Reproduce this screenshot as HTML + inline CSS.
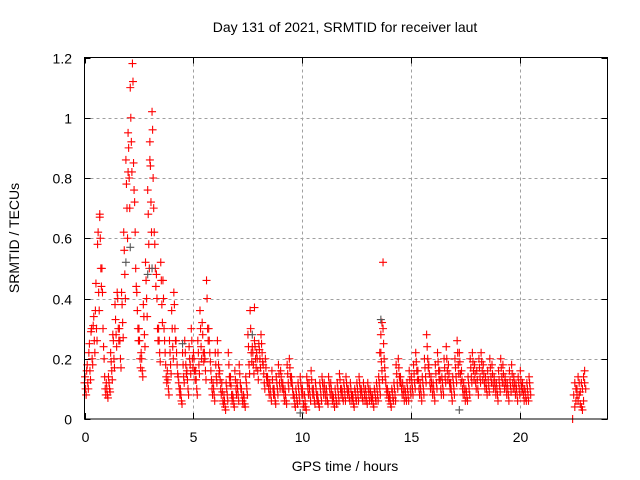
<!DOCTYPE html>
<html><head><meta charset="utf-8"><style>
body{margin:0;background:#fff;}
svg{display:block;font-family:"Liberation Sans",sans-serif;}
</style></head><body>
<svg id="chart" width="640" height="480">
<text x="345" y="32" font-size="14" text-anchor="middle">Day 131 of 2021, SRMTID for receiver laut</text>
<text x="345" y="471" font-size="14" text-anchor="middle">GPS time / hours</text>
<text x="19" y="238" font-size="14" text-anchor="middle" transform="rotate(-90 19 238)">SRMTID / TECUs</text>
<g id="grid"></g><g id="ticks"></g><g id="marks"></g>
<rect x="84.5" y="57.5" width="523" height="361.5" fill="none" stroke="#000" stroke-width="1"/>
</svg>
<script>
const xTicks=[0,5,10,15,20];
const yTicks=[0,0.2,0.4,0.6,0.8,1,1.2];
const yTickLabels=["0","0.2","0.4","0.6","0.8","1","1.2"];
const valsA=[.12,.16,.22,.29,.31,.36,.58,.67,.5,.2,
.12,.14,.22,.28,.38,.42,.3,.42,.62,.86,
.95,1.1,1.18,.72,.42,.3,.22,.38,.52,.76,
.92,1.02,.62,.48,.3,.52,.46,.22,.16,.26,
.36,.42,.26,.14,.1,.22,.26,.16,.24,.3,
.22,.16,.26,.36,.32,.22,.46,.3,.16,.12,
.22,.26,.16,.12,.08,.12,.22,.14,.08,.16,
.12,.18,.1,.08,.14,.28,.36,.24,.26,.22,
.25,.28,.18,.2,.14,.12,.16,.1,.14,.18,
.16,.12,.1,.18,.2,.14,.08,.1,.12,.14,
.1,.08,.14,.12,.16,.1,.12,.08,.12,.14,
.12,.1,.14,.12,.08,.1,.12,.15,.1,.12,
.14,.1,.12,.08,.1,.12,.14,.1,.12,.1,
.12,.1,.08,.1,.12,.14,.22,.3,.14,.1,
.08,.1,.12,.18,.2,.14,.12,.1,.12,.16,
.14,.18,.22,.16,.12,.14,.2,.28,.18,.14,
.12,.18,.22,.16,.14,.2,.24,.18,.12,.14,
.2,.26,.22,.16,.12,.1,.14,.2,.22,.18,
.16,.2,.22,.18,.14,.16,.2,.18,.14,.12,
.16,.2,.18,.14,.12,.16,.18,.14,.12,.14,
.16,.12,.1,.12,.14];
const valsB=[.1,.12,.16,.2,.26,.3,.42,.5,.3,.1,
.08,.1,.16,.2,.28,.3,.2,.32,.48,.7,
.8,.92,.85,.5,.3,.2,.16,.28,.4,.58,
.72,.8,.5,.3,.22,.38,.3,.14,.1,.18,
.24,.3,.18,.1,.06,.14,.18,.1,.18,.2,
.16,.1,.18,.24,.22,.16,.3,.22,.1,.08,
.14,.18,.1,.06,.04,.08,.14,.08,.05,.1,
.08,.12,.06,.05,.1,.18,.22,.18,.2,.16,
.2,.22,.12,.14,.1,.08,.1,.06,.1,.12,
.12,.08,.06,.12,.14,.1,.05,.06,.08,.1,
.05,.04,.1,.08,.1,.06,.08,.05,.08,.1,
.08,.06,.1,.08,.05,.06,.08,.1,.07,.08,
.1,.07,.08,.05,.07,.08,.1,.07,.08,.06,
.08,.07,.05,.07,.08,.1,.16,.2,.1,.07,
.05,.07,.08,.12,.14,.1,.08,.07,.08,.1,
.1,.12,.16,.1,.08,.1,.14,.2,.12,.1,
.08,.12,.16,.1,.1,.14,.16,.12,.08,.1,
.14,.18,.15,.1,.08,.07,.1,.14,.16,.12,
.1,.14,.16,.12,.1,.11,.14,.12,.1,.08,
.11,.14,.12,.1,.08,.11,.12,.1,.08,.1,
.11,.08,.07,.08,.1];
const valsC=[.14,.18,.25,.3,.34,.45,.62,.6,.42,.14,
.1,.12,.19,.26,.33,.4,.26,.38,.56,.78,
.9,1.0,1.12,.62,.36,.26,.2,.34,.46,.68,
.84,.96,.58,.4,.26,.46,.4,.18,.13,.22,
.3,.38,.22,.12,.08,.18,.22,.13,.2,.26,
.2,.13,.22,.3,.28,.2,.4,.26,.13,.1,
.18,.22,.13,.09,.06,.1,.18,.11,.07,.13,
.1,.15,.08,.07,.12,.24,.3,.22,.24,.2,
.23,.25,.15,.17,.12,.1,.13,.08,.12,.15,
.14,.1,.08,.15,.17,.12,.07,.08,.1,.12,
.08,.06,.12,.1,.13,.08,.1,.06,.1,.12,
.1,.08,.12,.1,.07,.08,.1,.13,.09,.1,
.12,.09,.1,.07,.09,.1,.12,.09,.1,.08,
.1,.09,.07,.09,.1,.12,.19,.25,.12,.09,
.07,.09,.1,.15,.17,.12,.1,.09,.1,.13,
.12,.15,.19,.13,.1,.12,.17,.24,.15,.12,
.1,.15,.19,.13,.12,.17,.2,.15,.1,.12,
.17,.22,.19,.13,.1,.09,.12,.17,.19,.15,
.13,.17,.19,.15,.12,.13,.17,.15,.12,.1,
.13,.17,.15,.12,.1,.13,.15,.12,.1,.12,
.13,.1,.09,.1,.12];
const valsD=[.08,.1,.13,.18,.22,.26,.36,.44,.24,.08,
.07,.09,.13,.17,.24,.26,.17,.27,.4,.6,
.7,.82,.76,.44,.26,.17,.14,.24,.34,.5,
.62,.7,.44,.26,.19,.32,.26,.12,.08,.15,
.2,.26,.15,.08,.05,.12,.15,.08,.15,.17,
.13,.08,.15,.2,.19,.13,.26,.19,.08,.06,
.12,.15,.08,.05,.03,.06,.12,.06,.04,.08,
.06,.1,.05,.04,.08,.15,.19,.15,.17,.13,
.17,.19,.1,.12,.08,.06,.08,.05,.08,.1,
.1,.06,.05,.1,.12,.08,.04,.05,.06,.08,
.04,.03,.08,.06,.08,.05,.06,.04,.06,.08,
.06,.05,.08,.06,.04,.05,.06,.08,.06,.06,
.08,.06,.06,.04,.06,.06,.08,.06,.06,.05,
.06,.06,.04,.06,.06,.08,.13,.17,.08,.06,
.04,.06,.06,.1,.12,.08,.06,.06,.06,.08,
.08,.1,.13,.08,.06,.08,.12,.17,.1,.08,
.06,.1,.13,.08,.08,.12,.13,.1,.06,.08,
.12,.15,.12,.08,.06,.06,.08,.12,.13,.1,
.08,.12,.13,.1,.08,.09,.12,.1,.08,.06,
.09,.12,.1,.08,.06,.09,.1,.08,.06,.08,
.09,.06,.06,.06,.08];
const tailHours=[22.4,22.45,22.5,22.55,22.6,22.65,22.7,22.75,22.8,22.85,22.9,22.95,23.0,22.5,22.6,22.7,22.8,22.9,22.55,22.65,22.75,22.85,22.95];
const tailVals=[0.0,.08,.12,.06,.1,.14,.08,.05,.12,.1,.06,.16,.1,.04,.08,.12,.04,.14,.1,.06,.09,.03,.12];
const extraHours=[13.7,13.65,13.6,13.55,7.8,0.7,2.0,3.0];
const extraVals=[.52,.32,.28,.22,.37,.68,.82,.86];
const grayHours=[13.6,1.9,2.1,3.1,7.7,9.9,17.2,2.9,4.5];
const grayVals=[.33,.52,.57,.5,.28,.02,.03,.48,.25];

const X0=84.5,X1=607.5,Y0=419,Y1=57.5;
const xs=h=>X0+(h/24)*(X1-X0);
const ys=v=>Y0-(v/1.2)*(Y0-Y1);
const NS="http://www.w3.org/2000/svg";
const grid=document.getElementById('grid'),ticks=document.getElementById('ticks'),marks=document.getElementById('marks');
function mk(tag,attrs,parent){const e=document.createElementNS(NS,tag);for(const k in attrs)e.setAttribute(k,attrs[k]);parent.appendChild(e);return e;}
xTicks.forEach(t=>{
 const x=Math.round(xs(t))+0.5;
 if(t>0){const g=mk('line',{x1:x,x2:x,y1:Y1,y2:Y0,stroke:'#a0a0a0','stroke-dasharray':'3,3'},grid);
 
 }
 mk('line',{x1:x,x2:x,y1:Y0,y2:Y0-6,stroke:'#000'},ticks);
 mk('line',{x1:x,x2:x,y1:Y1,y2:Y1+6,stroke:'#000'},ticks);
 const l=mk('text',{x:x,y:442,'font-size':14,'text-anchor':'middle'},ticks);l.textContent=t;
 
 
});
yTicks.forEach((t,i)=>{
 const y=Math.round(ys(t))+0.5;
 if(t>0&&t<1.2){const g=mk('line',{x1:X0,x2:X1,y1:y,y2:y,stroke:'#a0a0a0','stroke-dasharray':'3,3'},grid);
 
 }
 mk('line',{x1:X0,x2:X0+6,y1:y,y2:y,stroke:'#000'},ticks);
 mk('line',{x1:X1,x2:X1-6,y1:y,y2:y,stroke:'#000'},ticks);
 const l=mk('text',{x:72,y:y+5,'font-size':14,'text-anchor':'end'},ticks);l.textContent=yTickLabels[i];
 
 
});
function plus(h,v,c){
 const x=xs(h),y=ys(v);
 const p=mk('path',{d:`M${x-4} ${y}H${x+4}M${x} ${y-4}V${y+4}`,stroke:c,'stroke-width':1.1,fill:'none'},marks);
 
 
}
valsA.forEach((v,i)=>plus(i*0.1,v,'#ff0000'));
valsB.forEach((v,i)=>plus(i*0.1+0.05,v,'#ff0000'));
valsC.forEach((v,i)=>plus(i*0.1+0.025,v,'#ff0000'));
valsD.forEach((v,i)=>plus(i*0.1+0.075,v,'#ff0000'));
tailVals.forEach((v,i)=>plus(tailHours[i],v,'#ff0000'));
extraVals.forEach((v,i)=>plus(extraHours[i],v,'#ff0000'));
grayVals.forEach((v,i)=>plus(grayHours[i],v,'#555555'));
</script>
</body></html>
